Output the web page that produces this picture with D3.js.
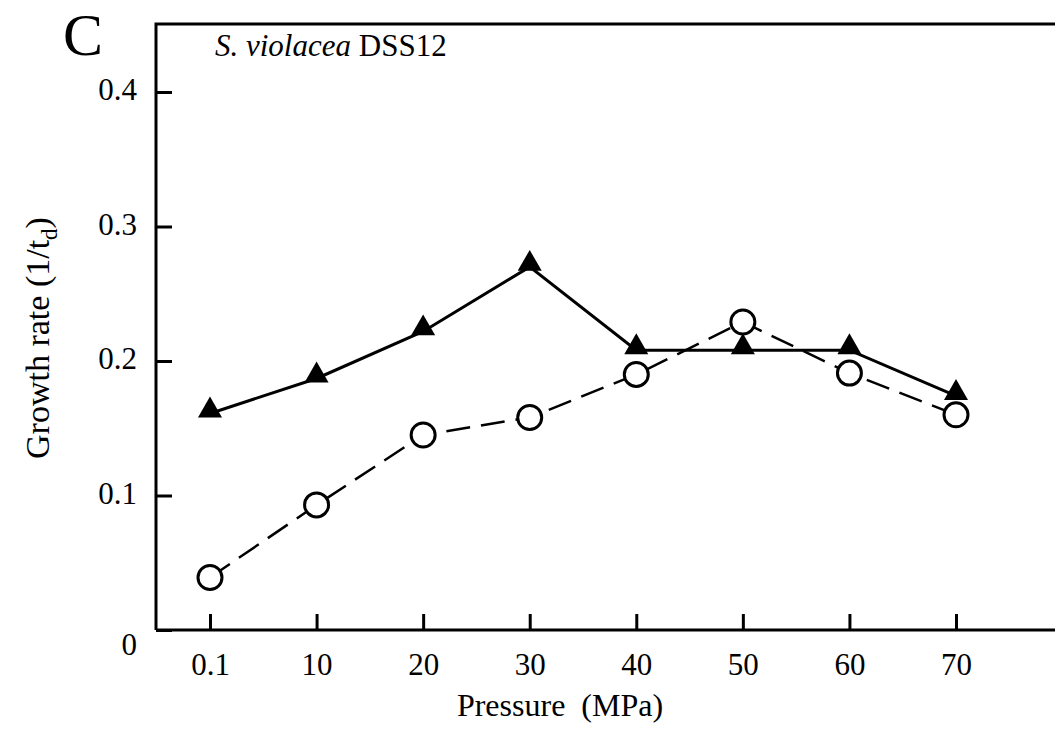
<!DOCTYPE html>
<html>
<head>
<meta charset="utf-8">
<script src="https://cdn.jsdelivr.net/npm/d3@7"></script>
<style>
  body { margin: 0; background: #fff; }
  text { font-family: "Liberation Serif", "Times New Roman", serif; fill: #000; }
</style>
</head>
<body>
<div id="chart-area"></div>
<script>
// values
const pressures = ["0.1", "10", "20", "30", "40", "50", "60", "70"]
const rateTriangles = [0.161, 0.187, 0.222, 0.270, 0.208, 0.208, 0.208, 0.174]
const rateCircles = [0.039, 0.093, 0.145, 0.158, 0.190, 0.229, 0.191, 0.160]
const yTicks = [0, 0.1, 0.2, 0.3, 0.4]

const WIDTH = 1055
const HEIGHT = 732
const AXIS = { LEFT: 156, BOTTOM: 630, TOP: 24 }

const svg = d3.select("#chart-area").append("svg")
  .attr("width", WIDTH)
  .attr("height", HEIGHT)

const x = d3.scalePoint()
  .domain(pressures)
  .range([210, 956])

const y = d3.scaleLinear()
  .domain([0, 0.4])
  .range([AXIS.BOTTOM, 92])

// frame (left, top, bottom; right side runs off the page)
svg.append("path")
  .attr("d", `M${AXIS.LEFT},${AXIS.BOTTOM}V${AXIS.TOP}H${WIDTH + 10}M${AXIS.LEFT},${AXIS.BOTTOM}H${WIDTH + 10}`)
  .attr("fill", "none")
  .attr("stroke", "#000")
  .attr("stroke-width", 3)

// Y axis, ticks pointing inward
const yAxisGroup = svg.append("g")
  .attr("transform", `translate(${AXIS.LEFT}, 0)`)
  .call(d3.axisLeft(y)
    .tickValues(yTicks)
    .tickSize(-16)
    .tickPadding(19)
    .tickFormat(d => d === 0 ? "0" : d3.format(".1f")(d)))
yAxisGroup.select(".domain").remove()
yAxisGroup.selectAll("line").attr("stroke-width", 3)
yAxisGroup.selectAll("text")
  .attr("font-size", "31px")
  .attr("font-family", null)
  .attr("y", d => d === 0 ? 15 : -2)

// X axis
const xAxisGroup = svg.append("g")
  .attr("transform", `translate(0, ${AXIS.BOTTOM})`)
  .call(d3.axisBottom(x).tickSize(-16))
xAxisGroup.select(".domain").remove()
xAxisGroup.selectAll("line").attr("stroke-width", 3)
xAxisGroup.selectAll("text")
  .attr("font-size", "31px")
  .attr("font-family", null)
  .attr("y", 35)
  .attr("dy", "0.32em")

// lines
const line = d3.line()
  .x((d, i) => x(pressures[i]))
  .y(d => y(d))

svg.append("path")
  .datum(rateCircles)
  .attr("d", line)
  .attr("fill", "none")
  .attr("stroke", "#000")
  .attr("stroke-width", 2.5)
  .attr("stroke-dasharray", "24,11")

svg.append("path")
  .datum(rateTriangles)
  .attr("d", line)
  .attr("fill", "none")
  .attr("stroke", "#000")
  .attr("stroke-width", 3)

// markers
svg.selectAll(".tri")
  .data(rateTriangles)
  .enter().append("path")
    .attr("class", "tri")
    .attr("d", d3.symbol(d3.symbolTriangle, 250))
    .attr("transform", (d, i) => `translate(${x(pressures[i])}, ${y(d) - 3})`)
    .attr("fill", "#000")

svg.selectAll(".circ")
  .data(rateCircles)
  .enter().append("circle")
    .attr("class", "circ")
    .attr("cx", (d, i) => x(pressures[i]))
    .attr("cy", d => y(d))
    .attr("r", 12)
    .attr("fill", "#fff")
    .attr("stroke", "#000")
    .attr("stroke-width", 3)

// panel letter
svg.append("text")
  .attr("x", 63)
  .attr("y", 55)
  .attr("font-size", "60px")
  .text("C")

// strain label
const strain = svg.append("text")
  .attr("x", 215)
  .attr("y", 56)
  .attr("font-size", "31px")
strain.append("tspan").attr("font-style", "italic").text("S. violacea")
strain.append("tspan").text(" DSS12")

// X label
svg.append("text")
  .attr("x", 560)
  .attr("y", 716)
  .attr("font-size", "32px")
  .attr("text-anchor", "middle")
  .attr("xml:space", "preserve")
  .text("Pressure  (MPa)")

// Y label
const yLabel = svg.append("text")
  .attr("transform", "translate(49, 338) rotate(-90)")
  .attr("font-size", "34px")
  .attr("text-anchor", "middle")
yLabel.append("tspan").text("Growth rate (1/t")
yLabel.append("tspan").attr("font-size", "23px").attr("dy", 8).text("d")
yLabel.append("tspan").attr("dy", -8).text(")")
</script>
</body>
</html>
